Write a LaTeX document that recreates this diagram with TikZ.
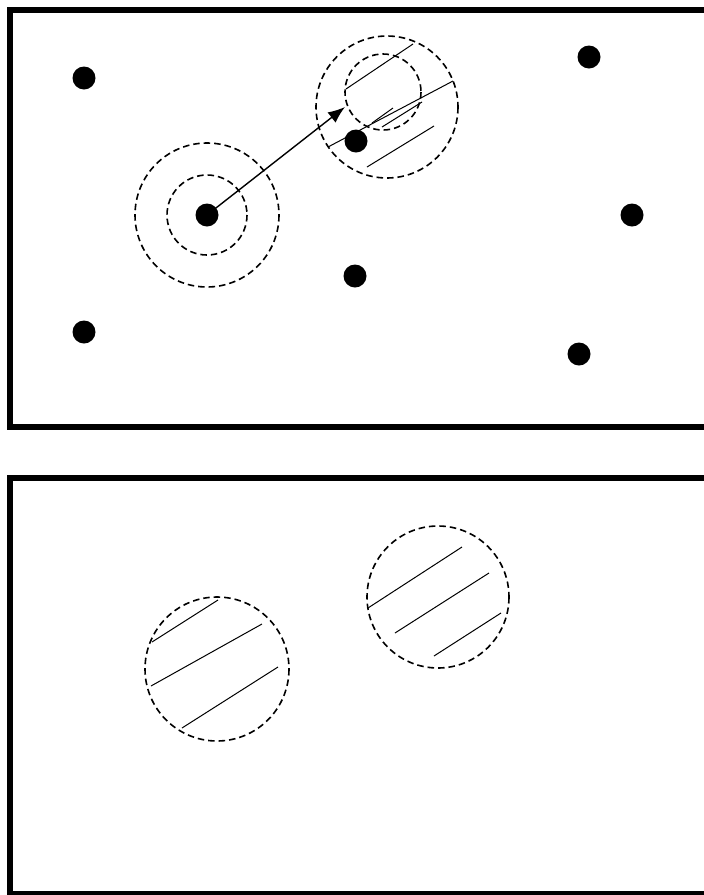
\documentclass[tikz,border=0pt]{standalone}
\usetikzlibrary{arrows.meta}
\tikzset{
  frame/.style={line width=6pt},
  ring/.style={line width=1.6pt, dash pattern=on 6.5pt off 4pt},
  hatch/.style={line width=1pt},
  dot/.style={fill=black}
}
\begin{document}
\begin{tikzpicture}[x=1pt,y=-1pt]
    \useasboundingbox (0,0) rectangle (704,895);
    \clip (0,0) rectangle (704,895);
    % Frames
    \draw[frame] (712,9.5) -- (9.5,9.5) -- (9.5,427) -- (712,427);
    \draw[frame] (712,478) -- (9.5,478) -- (9.5,894) -- (712,894);
    % Points
    \foreach \x/\y in {84/78, 589/57, 356/141, 207/215, 632/215, 355/276, 84/332, 579/354}
        \fill[dot] (\x,\y) circle (11.5);
    % Circles round the source point
    \coordinate (src) at (207,215);
    \draw[ring] (src) circle (40);
    \draw[ring] (src) circle (72);
    % Circles round the target
    \coordinate (dst) at (387,107);
    \draw[ring] (dst) circle (71);
    \draw[ring] (383,92) circle (38);
    % Hatching of the target
    \draw[hatch] (346,89) -- (413,44);
    \draw[hatch] (328,147) -- (453,81);
    \draw[hatch] (372,123) -- (393,108);
    \draw[hatch] (382,127) -- (422,102);
    \draw[hatch] (367,167) -- (434,126);
    % Arrow
    \coordinate (tip) at (345,107);
    \draw[line width=1.4pt, -{Latex[length=17pt,width=13pt]}] (src) -- (tip);
    % Lower panel circles
    \draw[ring] (217,669) circle (72);
    \draw[ring] (438,597) circle (71);
    \draw[hatch] (152,642) -- (218,600);
    \draw[hatch] (151,686) -- (262,624);
    \draw[hatch] (182,728) -- (278,667);
    \draw[hatch] (368,608) -- (462,547);
    \draw[hatch] (395,633) -- (489,573);
    \draw[hatch] (434,656) -- (501,613);
\end{tikzpicture}
\end{document}
